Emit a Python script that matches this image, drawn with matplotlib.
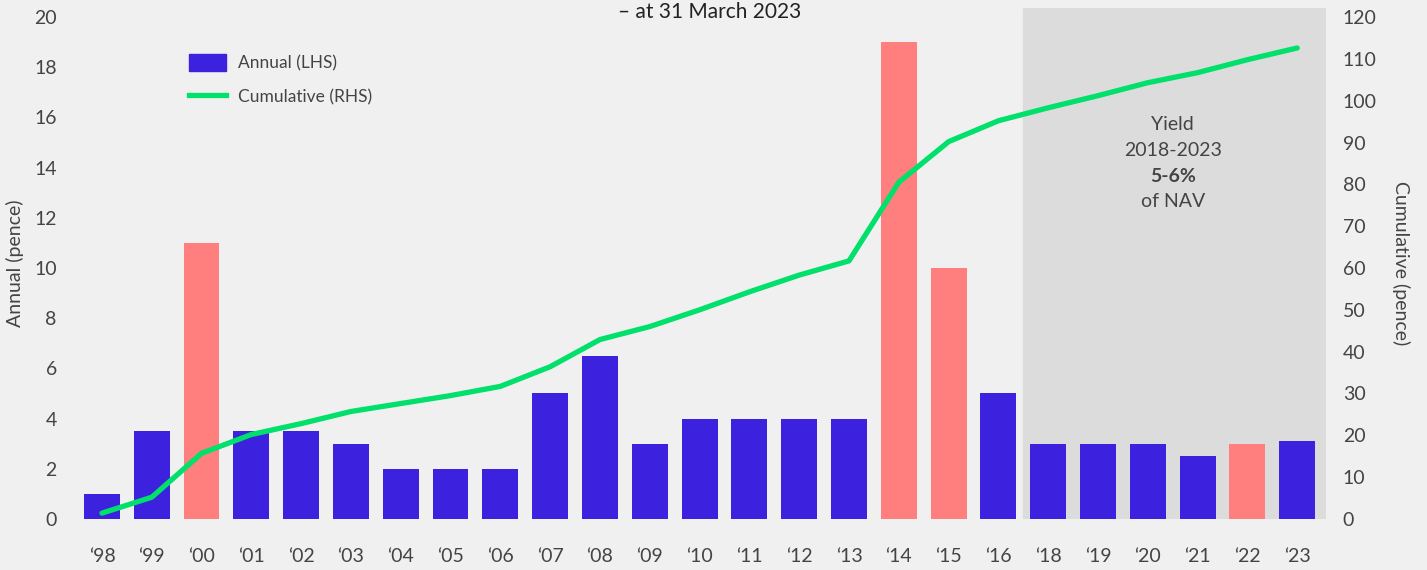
import matplotlib.pyplot as plt
from matplotlib.patches import Patch
from matplotlib.lines import Line2D

plt.rcParams["font.family"] = ["Lato", "DejaVu Sans"]

years = ["\u201898", "\u201899", "\u201800", "\u201801", "\u201802", "\u201803", "\u201804",
         "\u201805", "\u201806", "\u201807", "\u201808", "\u201809", "\u201810", "\u201811",
         "\u201812", "\u201813", "\u201814", "\u201815", "\u201816", "\u201818", "\u201819",
         "\u201820", "\u201821", "\u201822", "\u201823"]
annual = [1.0, 3.5, 11.0, 3.5, 3.5, 3.0, 2.0, 2.0, 2.0, 5.0, 6.5, 3.0, 4.0, 4.0,
          4.0, 4.0, 19.0, 10.0, 5.0, 3.0, 3.0, 3.0, 2.5, 3.0, 3.1]
special = [False, False, True, False, False, False, False, False, False, False, False,
           False, False, False, False, False, True, True, False, False, False, False,
           False, True, False]
cumulative = [1.4, 5.2, 15.7, 20.2, 22.8, 25.7, 27.6, 29.5, 31.7, 36.4, 42.9, 46.0,
              50.0, 54.3, 58.3, 61.7, 80.5, 90.2, 95.2, 98.3, 101.2, 104.3, 106.7,
              109.8, 112.6]

BLUE = "#3c22df"
PINK = "#ff7f7f"
GREEN = "#00e06b"
BG = "#f0f0f0"
SHADE = "#dcdcdc"
TEXT = "#444444"
FS = 14

fig = plt.figure(figsize=(14.27, 5.7), dpi=100, facecolor=BG)
ax = fig.add_axes([0.0505, 0.0895, 0.8788, 0.8965])
ax.set_facecolor(BG)
ax2 = ax.twinx()

x = list(range(len(years)))
ax.axvspan(18.5, 24.6, color=SHADE, zorder=0)
colors = [PINK if s else BLUE for s in special]
ax.bar(x, annual, width=0.72, color=colors, zorder=2)
ax2.plot(x, cumulative, color=GREEN, lw=3.8, solid_capstyle="round", zorder=3)

top = 20.36
ax.set_ylim(0, top)
ax2.set_ylim(0, 120 * top / 20)
ax.set_xlim(-0.6, 24.58)
ax.set_yticks(range(0, 21, 2))
ax2.set_yticks(range(0, 121, 10))
ax.set_xticks(x)
ax.set_xticklabels(years)

for a in (ax, ax2):
    for s in a.spines.values():
        s.set_visible(False)
    a.tick_params(length=0, labelsize=FS, labelcolor=TEXT)
ax.tick_params(axis="x", pad=21)
ax.tick_params(axis="y", pad=11)
ax2.tick_params(axis="y", pad=12)

ax.set_ylabel("Annual (pence)", fontsize=FS, color=TEXT, labelpad=7)
ax2.set_ylabel("Cumulative (pence)", fontsize=FS, color=TEXT, rotation=270, labelpad=24)

yield_lines = [("Yield", "normal", 15.7), ("2018-2023", "normal", 14.68),
               ("5-6%", "bold", 13.66), ("of NAV", "normal", 12.64)]
for txt, weight, yy in yield_lines:
    ax.text(21.5, yy, txt, ha="center", va="center", fontsize=FS,
            color=TEXT, fontweight=weight)

fig.text(0.497, 0.979, "\u2013 at 31 March 2023", ha="center", va="center",
         fontsize=15, color="#222222")

handles = [Patch(color=BLUE, label="Annual (LHS)"),
           Line2D([0], [0], color=GREEN, lw=3.8, label="Cumulative (RHS)")]
leg = ax.legend(handles=handles, loc="upper left", bbox_to_anchor=(0.081, 0.94),
                frameon=False, fontsize=12.5, handlelength=2.1, handleheight=1.1,
                labelspacing=0.95, handletextpad=0.7)
for t in leg.get_texts():
    t.set_color(TEXT)

fig.savefig("out.png", dpi=100, facecolor=BG)
